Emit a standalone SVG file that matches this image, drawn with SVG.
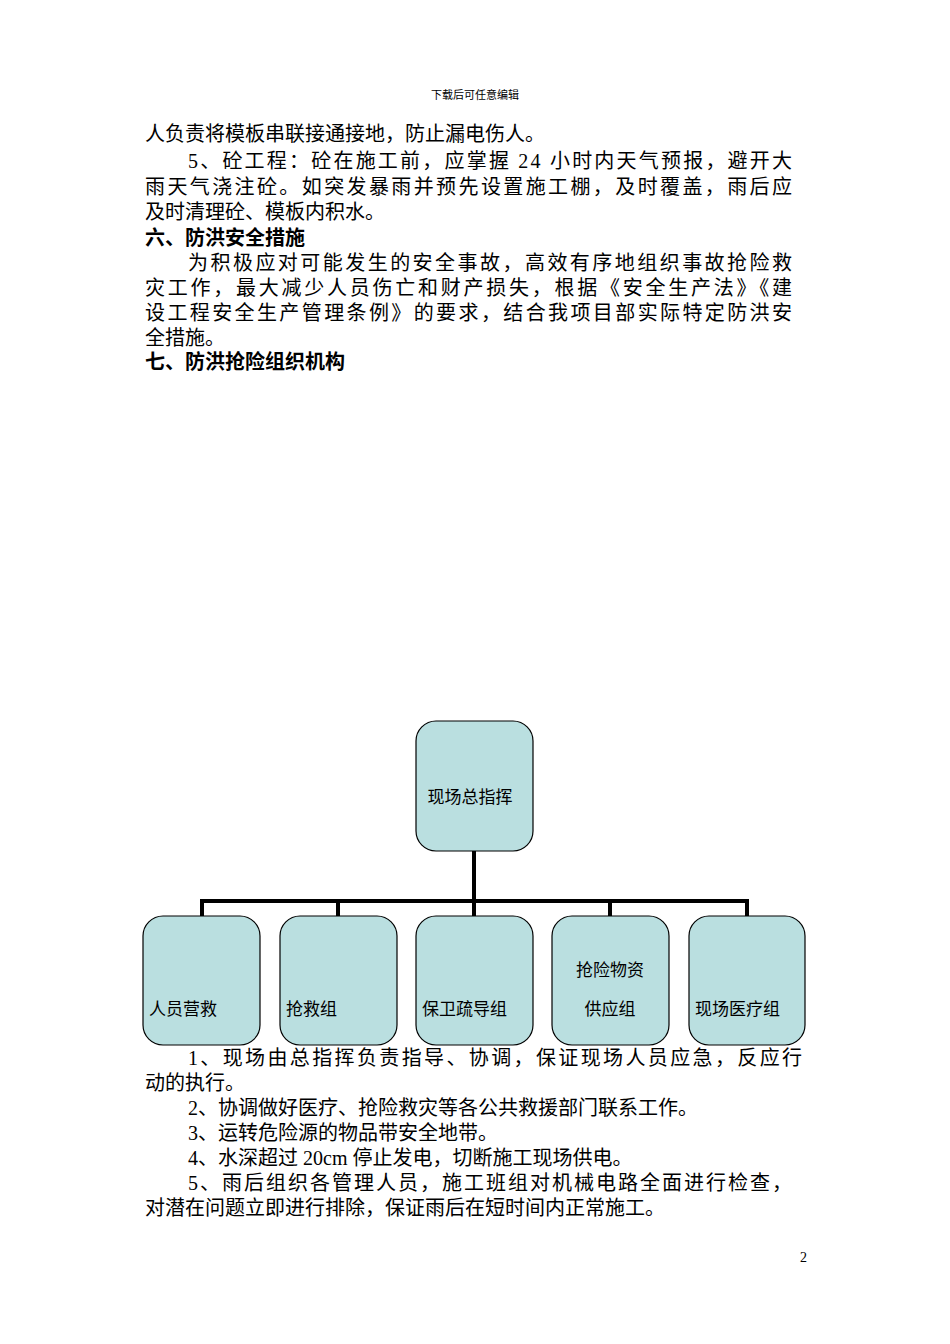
<svg xmlns="http://www.w3.org/2000/svg" width="950" height="1344" viewBox="0 0 950 1344">
<style>
text{font-family:"Liberation Serif","Noto Sans CJK SC",serif;fill:#000}
.b{font-size:20px}
.h{font-size:20px;font-weight:bold}
.n{font-family:"Liberation Sans","Noto Sans CJK SC",sans-serif;font-size:17px}
.box{fill:#badfe0;stroke:#000;stroke-width:1.2}
.c{stroke:#000;stroke-width:4;fill:none}
</style>
<rect width="950" height="1344" fill="#fff"/>
<text x="475" y="99" font-size="11" text-anchor="middle">下载后可任意编辑</text>
<text class="b" x="145" y="141">人负责将模板串联接通接地，防止漏电伤人。</text>
<text class="b" x="188" y="168" textLength="604" lengthAdjust="spacing">5、砼工程：砼在施工前，应掌握 24 小时内天气预报，避开大</text>
<text class="b" x="145" y="194" textLength="647" lengthAdjust="spacing">雨天气浇注砼。如突发暴雨并预先设置施工棚，及时覆盖，雨后应</text>
<text class="b" x="145" y="219">及时清理砼、模板内积水。</text>
<text class="h" x="145" y="245">六、防洪安全措施</text>
<text class="b" x="188" y="270" textLength="604" lengthAdjust="spacing">为积极应对可能发生的安全事故，高效有序地组织事故抢险救</text>
<text class="b" x="145" y="295" textLength="647" lengthAdjust="spacing">灾工作，最大减少人员伤亡和财产损失，根据《安全生产法》《建</text>
<text class="b" x="145" y="320" textLength="647" lengthAdjust="spacing">设工程安全生产管理条例》的要求，结合我项目部实际特定防洪安</text>
<text class="b" x="145" y="345">全措施。</text>
<text class="h" x="145" y="369">七、防洪抢险组织机构</text>
<g id="connectors">
<path class="c" d="M474 851V901M202 916V901H747V916M338 901V916M474 901V916M610 901V916"/>
</g>
<g id="n0"><rect class="box" x="416" y="721" width="117" height="130" rx="20"/><text class="n" x="470" y="803" text-anchor="middle">现场总指挥</text></g>
<g id="n1"><rect class="box" x="143" y="916" width="117" height="129" rx="20"/><text class="n" x="149" y="1015">人员营救</text></g>
<g id="n2"><rect class="box" x="280" y="916" width="117" height="129" rx="20"/><text class="n" x="286" y="1015">抢救组</text></g>
<g id="n3"><rect class="box" x="416" y="916" width="117" height="129" rx="20"/><text class="n" x="422" y="1015">保卫疏导组</text></g>
<g id="n4"><rect class="box" x="552" y="916" width="117" height="129" rx="20"/><text class="n" x="610" y="976" text-anchor="middle">抢险物资</text><text class="n" x="610" y="1015" text-anchor="middle">供应组</text></g>
<g id="n5"><rect class="box" x="689" y="916" width="116" height="129" rx="20"/><text class="n" x="695" y="1015">现场医疗组</text></g>
<text class="b" x="188" y="1065" textLength="614" lengthAdjust="spacing">1、现场由总指挥负责指导、协调，保证现场人员应急，反应行</text>
<text class="b" x="145" y="1090">动的执行。</text>
<text class="b" x="188" y="1115">2、协调做好医疗、抢险救灾等各公共救援部门联系工作。</text>
<text class="b" x="188" y="1140">3、运转危险源的物品带安全地带。</text>
<text class="b" x="188" y="1165">4、水深超过 20cm 停止发电，切断施工现场供电。</text>
<text class="b" x="188" y="1190" textLength="604" lengthAdjust="spacing">5、雨后组织各管理人员，施工班组对机械电路全面进行检查，</text>
<text class="b" x="145" y="1215">对潜在问题立即进行排除，保证雨后在短时间内正常施工。</text>
<text x="800" y="1262" font-size="14">2</text>
</svg>
